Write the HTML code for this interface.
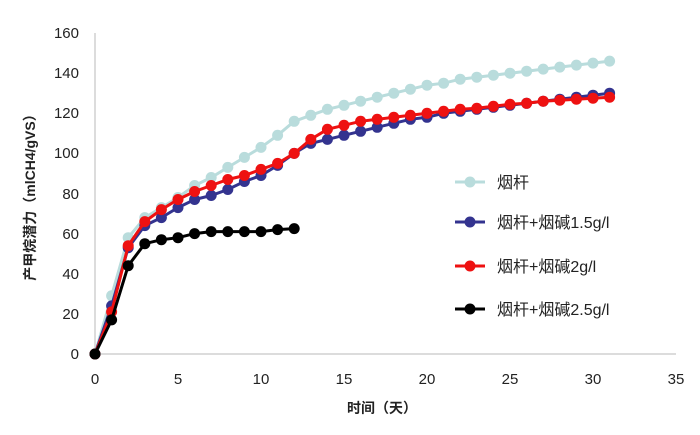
<!DOCTYPE html>
<html><head><meta charset="utf-8"><style>
html,body{margin:0;padding:0;background:#fff;}
svg{display:block;font-family:"Liberation Sans","Noto Sans CJK SC",sans-serif;}
</style></head><body>
<svg id="c" width="700" height="435" xmlns="http://www.w3.org/2000/svg">
<rect width="700" height="435" fill="#fff"/>
<line x1="95" y1="33" x2="95" y2="354" stroke="#d0d0d0" stroke-width="1.5"/>
<line x1="95" y1="354" x2="676" y2="354" stroke="#d0d0d0" stroke-width="1.5"/>
<g font-size="15" fill="#222" text-anchor="end">
<text x="79" y="359">0</text><text x="79" y="319">20</text><text x="79" y="279">40</text><text x="79" y="239">60</text><text x="79" y="199">80</text><text x="79" y="158">100</text><text x="79" y="118">120</text><text x="79" y="78">140</text><text x="79" y="38">160</text>
</g>
<g font-size="15" fill="#222" text-anchor="middle">
<text x="95" y="384">0</text><text x="178" y="384">5</text><text x="261" y="384">10</text><text x="344" y="384">15</text><text x="427" y="384">20</text><text x="510" y="384">25</text><text x="593" y="384">30</text><text x="676" y="384">35</text>
</g>
<text x="382" y="413" font-size="14" font-weight="bold" text-anchor="middle" fill="#222">时间（天）</text>
<text transform="translate(35,194) rotate(-90)" font-size="14" font-weight="bold" text-anchor="middle" fill="#222">产甲烷潜力（mlCH4/gVS）</text>
<g id="series"></g>
<g font-size="16" fill="#222">
<line x1="455" y1="182" x2="485" y2="182" stroke="#b9dcdc" stroke-width="3"/><circle cx="470" cy="182" r="5.5" fill="#b9dcdc"/><text x="497" y="188">烟杆</text>
<line x1="455" y1="222" x2="485" y2="222" stroke="#33338f" stroke-width="3"/><circle cx="470" cy="222" r="5.5" fill="#33338f"/><text x="497" y="228">烟杆+烟碱1.5g/l</text>
<line x1="455" y1="266" x2="485" y2="266" stroke="#ee1111" stroke-width="3"/><circle cx="470" cy="266" r="5.5" fill="#ee1111"/><text x="497" y="272">烟杆+烟碱2g/l</text>
<line x1="455" y1="309" x2="485" y2="309" stroke="#000" stroke-width="3"/><circle cx="470" cy="309" r="5.5" fill="#000"/><text x="497" y="315">烟杆+烟碱2.5g/l</text>
</g>
</svg>
<script>
var S=[
["#b9dcdc",[0,29,58,68,73,78,84,88,93,98,103,109,116,119,122,124,126,128,130,132,134,135,137,138,139,140,141,142,143,144,145,146]],
["#33338f",[0,24,53,64,68,73,77,79,82,86,89,94,100,105,107,109,111,113,115,117,118,120,121,122,123,124,125,126,127,128,129,130]],
["#ee1111",[0,21,54,66,72,77,81,84,87,89,92,95,100,107,112,114,116,117,118,119,120,121,122,122.5,123.5,124.5,125,126,126.5,127,127.5,128]],
["#000",[0,17,44,55,57,58,60,61,61,61,61,62,62.5]]];
var g=document.getElementById('series'),h='';
S.forEach(function(s){var p=s[1].map(function(v,i){return (95+16.6*i).toFixed(1)+','+(354-2.006*v).toFixed(1)});
h+='<polyline fill="none" stroke="'+s[0]+'" stroke-width="3" points="'+p.join(' ')+'"/>';
p.forEach(function(q){var a=q.split(',');h+='<circle cx="'+a[0]+'" cy="'+a[1]+'" r="5.5" fill="'+s[0]+'"/>';});});
g.innerHTML=h;
</script>
</body></html>
